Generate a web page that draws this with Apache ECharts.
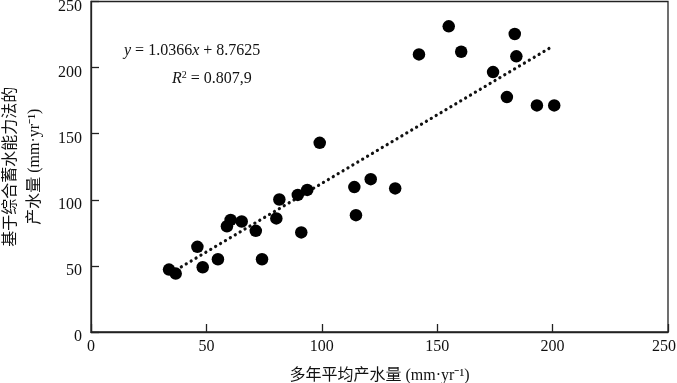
<!DOCTYPE html>
<html><head><meta charset="utf-8">
<script src="https://cdn.jsdelivr.net/npm/echarts@6/dist/echarts.min.js"></script>
<style>html,body{margin:0;padding:0;background:#fff}#c{width:677px;height:383px}</style>
</head><body><div id="c"></div>
<script>
const obsX = [33.8,36.7,46.1,48.4,55.0,58.9,60.5,65.3,71.4,74.1,80.3,81.6,89.6,91.1,93.7,99.1,114.1,114.8,121.2,131.8,142.1,155.0,160.4,174.2,180.2,183.6,184.3,193.2,200.7];
const modY = [47.2,44.2,64.4,49.0,55.0,80.0,84.8,83.6,76.5,55.0,85.9,100.2,103.7,75.3,107.5,143.1,109.6,88.4,115.6,108.6,210.0,231.2,212.0,196.6,177.7,225.4,208.5,171.4,171.4];
const trendX = [37, 200];
const trendY = [47.1, 216.1];
const ticks = [0, 50, 100, 150, 200, 250];
const eqText = '1.0366';
const eqB = '8.7625';
const r2Text = '0.807,9';

const serif = "'Liberation Serif','Times New Roman','Noto Sans CJK SC',serif";
const maxTick = ticks[ticks.length-1];
const chart = echarts.init(document.getElementById('c'));
chart.setOption({
  animation: false,
  grid: {left: 91, right: 9, top: 1.5, bottom: 51, containLabel: false, outerBoundsMode: 'none',
         show: true, borderColor: '#222', borderWidth: 1.3},
  xAxis: {
    type: 'value', min: ticks[0], max: maxTick, interval: 50,
    axisLine: {show: true, lineStyle: {color: '#222', width: 1.3}},
    axisTick: {show: true, inside: true, length: 8, lineStyle: {color: '#222', width: 1.3}},
    axisLabel: {fontFamily: serif, fontSize: 16, color: '#111', margin: 7,
      formatter: v => v === maxTick ? '{m|' + v + '}' : String(v),
      rich: {m: {fontFamily: serif, fontSize: 16, color: '#111', padding: [0, 8, 0, 0]}}},
    splitLine: {show: false},
    name: '多年平均产水量 (mm·yr⁻¹)', nameLocation: 'middle', nameGap: 36,
    nameTextStyle: {fontFamily: serif, fontSize: 16, color: '#111'}
  },
  yAxis: {
    type: 'value', min: ticks[0], max: maxTick, interval: 50,
    axisLine: {show: true, lineStyle: {color: '#222', width: 1.3}},
    axisTick: {show: true, inside: true, length: 8, lineStyle: {color: '#222', width: 1.3}},
    axisLabel: {fontFamily: serif, fontSize: 16, color: '#111', margin: 9, verticalAlign: 'top', lineHeight: 10},
    splitLine: {show: false},
    name: '基于综合蓄水能力法的\n产水量 (mm·yr⁻¹)', nameLocation: 'middle', nameGap: 44, nameRotate: 90,
    nameTextStyle: {fontFamily: serif, fontSize: 16, color: '#111', lineHeight: 24}
  },
  series: [
    {type: 'line', data: trendX.map((x, i) => [x, trendY[i]]), symbol: 'none', silent: true,
     lineStyle: {color: '#111', width: 3.2, type: [0.1, 5.6], cap: 'round'}, z: 1},
    {type: 'scatter', data: obsX.map((x, i) => [x, modY[i]]), symbol: 'circle', symbolSize: 12.5,
     itemStyle: {color: '#000', opacity: 1}, z: 2}
  ],
  graphic: [
    {type: 'text', left: 124, top: 43, style: {
      text: '{i|y} = ' + eqText + '{i|x} + ' + eqB,
      font: '16px ' + serif, fill: '#111',
      rich: {i: {fontStyle: 'italic', fontFamily: serif, fontSize: 16, fill: '#111'}}
    }},
    {type: 'text', left: 172, top: 70, style: {
      text: '{i|R}{s|2} = ' + r2Text,
      font: '16px ' + serif, fill: '#111',
      rich: {i: {fontStyle: 'italic', fontFamily: serif, fontSize: 16}, s: {fontFamily: serif, fontSize: 10, verticalAlign: 'top', padding: [0,0,7,0]}}
    }}
  ]
});
</script>
</body></html>
